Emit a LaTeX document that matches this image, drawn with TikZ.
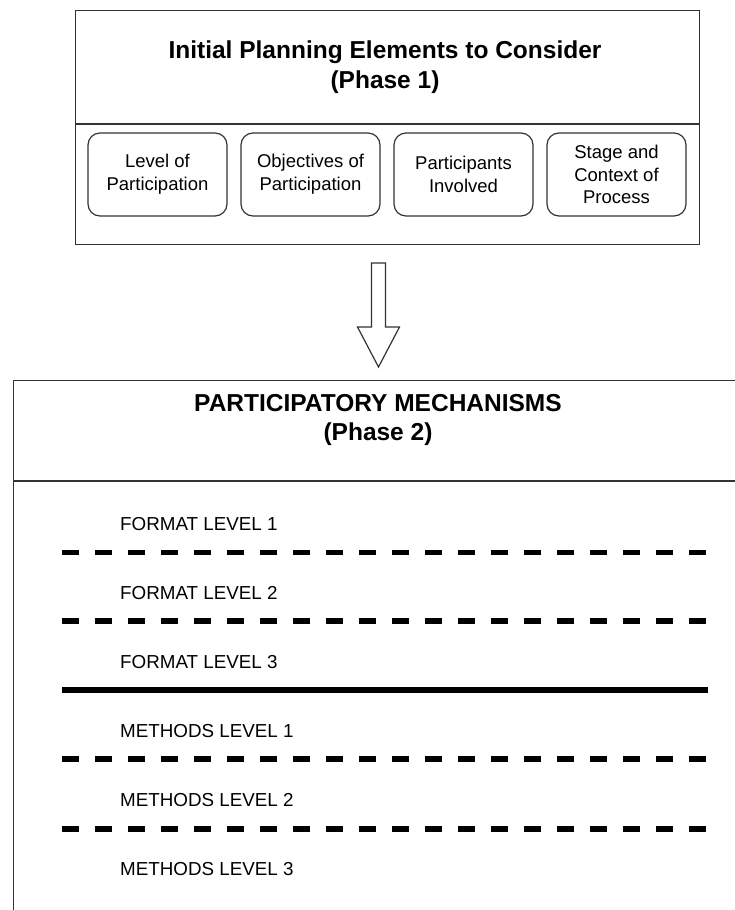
\documentclass[tikz,border=0pt]{standalone}
\usepackage{fontspec}
\setmainfont{Liberation Sans}
\begin{document}
\begin{tikzpicture}[x=1pt,y=-1pt,
  frame/.style={draw=black!80, line width=1.3pt},
  elem/.style={draw=black!80, line width=1.2pt, rounded corners=12pt,
    minimum width=139pt, minimum height=83pt, align=center, inner sep=0pt,
    font=\fontsize{18.5}{22.8}\selectfont},
  headline/.style={align=center, inner sep=0pt,
    font=\bfseries\fontsize{24.5}{29.5}\selectfont},
  levellabel/.style={anchor=west, inner sep=0pt,
    font=\fontsize{18.8}{22}\selectfont},
  sepdashed/.style={line width=5.3pt, dash pattern=on 17pt off 16pt},
  sepsolid/.style={line width=6pt},
  flowarrow/.style={draw=black!80, line width=1.2pt, fill=white, line join=miter},
]
\useasboundingbox (0,0) rectangle (735,910);
\clip (0,0) rectangle (735,910);

% Phase 1 frame with its heading strip
\node[frame, anchor=north west, minimum width=624pt, minimum height=234pt] (phase1) at (75,10) {};
\draw[frame] ([yshift=-114pt]phase1.north west) coordinate (d1a) -- ([yshift=-114pt]phase1.north east) coordinate (d1b);
\node[headline] (title1) at (385,67) {Initial Planning Elements to Consider\\(Phase 1)};

% planning elements
\node[elem] (lvl)   at (157.5,174.5) {Level of\\Participation};
\node[elem] (obj)   at (310.5,174.5) {Objectives of\\Participation};
\node[elem] (part)  at (463.5,174.5) {Participants\\Involved};
\node[elem] (stage) at (616.5,174.5) {Stage and\\Context of\\Process};

% hollow block arrow between the phases
\coordinate (arrtop) at (378.5,263);
\coordinate (arrtip) at (378.5,367);
\draw[flowarrow] ([xshift=-7pt]arrtop) -- ([xshift=7pt]arrtop)
  -- ([xshift=7pt,yshift=40pt]arrtip) -- ([xshift=21pt,yshift=40pt]arrtip)
  -- (arrtip)
  -- ([xshift=-21pt,yshift=40pt]arrtip) -- ([xshift=-7pt,yshift=40pt]arrtip)
  -- cycle;

% Phase 2 frame (runs past the page on the right and bottom)
\node[frame, anchor=north west, minimum width=760pt, minimum height=560pt] (phase2) at (13,380) {};
\draw[frame] ([yshift=-101pt]phase2.north west) coordinate (d2a) -- ([yshift=-101pt]phase2.north east) coordinate (d2b);
\node[headline] (title2) at (378,420) {PARTICIPATORY MECHANISMS\\(Phase 2)};

% levels and their separators
\node[levellabel] (f1) at (120,524) {FORMAT LEVEL 1};
\node[levellabel] (f2) at (120,593) {FORMAT LEVEL 2};
\node[levellabel] (f3) at (120,662) {FORMAT LEVEL 3};
\node[levellabel] (m1) at (120,731) {METHODS LEVEL 1};
\node[levellabel] (m2) at (120,800) {METHODS LEVEL 2};
\node[levellabel] (m3) at (120,869) {METHODS LEVEL 3};

\coordinate (s1a) at (62,552.7); \coordinate (s1b) at (706,552.7);
\coordinate (s2a) at (62,621);   \coordinate (s2b) at (706,621);
\coordinate (s3a) at (62,690);   \coordinate (s3b) at (708,690);
\coordinate (s4a) at (62,759);   \coordinate (s4b) at (706,759);
\coordinate (s5a) at (62,829);   \coordinate (s5b) at (706,829);
\draw[sepdashed] (s1a) -- (s1b);
\draw[sepdashed] (s2a) -- (s2b);
\draw[sepsolid]  (s3a) -- (s3b);
\draw[sepdashed] (s4a) -- (s4b);
\draw[sepdashed] (s5a) -- (s5b);
\end{tikzpicture}
\end{document}
